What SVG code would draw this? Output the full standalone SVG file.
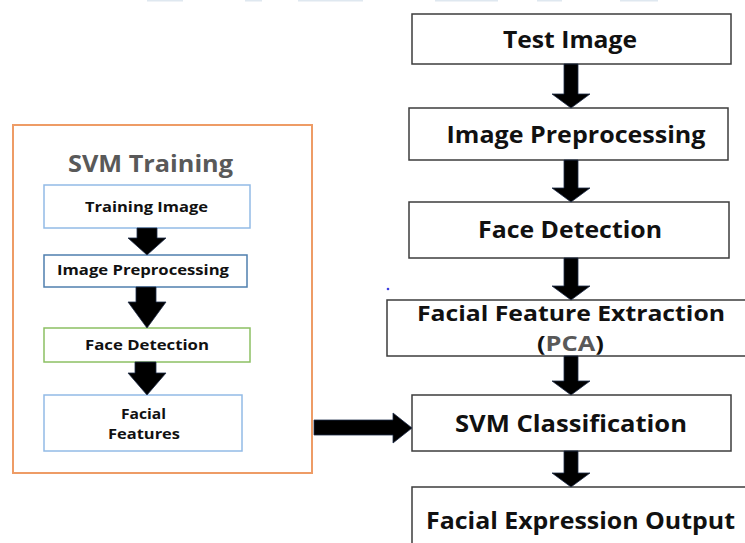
<svg xmlns="http://www.w3.org/2000/svg" width="745" height="543" viewBox="0 0 745 543">
<style>
.bx{fill:#fff;stroke:#3c3c3c;stroke-width:1.5}
.t{font-family:"Open Sans",Lato,"Liberation Sans",sans-serif;font-weight:bold;fill:#111;text-anchor:middle}
.big{font-size:23px}
.mid{font-size:21.5px}
.sm{font-size:15px}
.arr{fill:#000;stroke:#1f2d4a;stroke-width:0.8}
.strip{fill:#dfe8f0}
</style>
<rect width="745" height="543" fill="#fff"/>
<g id="strips">
<rect class="strip" x="147" y="0" width="36" height="1.5"/>
<rect class="strip" x="245" y="0" width="17" height="1.5"/>
<rect class="strip" x="298" y="0" width="65" height="1.5"/>
<rect class="strip" x="435" y="0" width="63" height="1.5"/>
<rect class="strip" x="537" y="0" width="25" height="1.5"/>
<rect class="strip" x="620" y="0" width="38" height="1.5"/>
</g>
<g id="svm-training">
<rect x="13" y="125" width="299" height="348" fill="#fff" stroke="#ee9c66" stroke-width="2"/>
<text class="t" x="150.5" y="172" textLength="165" lengthAdjust="spacingAndGlyphs" style="font-size:24px;fill:#595959">SVM Training</text>
</g>
<g id="training-image">
<rect x="44" y="185" width="206" height="43" fill="#fff" stroke="#92bbe6" stroke-width="1.5"/>
<text class="t sm" x="146.5" y="212" textLength="123" lengthAdjust="spacingAndGlyphs">Training Image</text>
</g>
<g id="image-preprocessing-l">
<rect x="44" y="255" width="203" height="32" fill="#fff" stroke="#4f7fae" stroke-width="1.5"/>
<text class="t sm" x="143" y="275" textLength="172" lengthAdjust="spacingAndGlyphs">Image Preprocessing</text>
</g>
<g id="face-detection-l">
<rect x="44" y="328" width="206" height="34" fill="#fff" stroke="#8cc063" stroke-width="1.5"/>
<text class="t sm" x="147" y="350" textLength="124" lengthAdjust="spacingAndGlyphs">Face Detection</text>
</g>
<g id="facial-features">
<rect x="44" y="395" width="198" height="56" fill="#fff" stroke="#92bbe6" stroke-width="1.5"/>
<text class="t sm" x="143.5" y="419" textLength="45" lengthAdjust="spacingAndGlyphs">Facial</text>
<text class="t sm" x="144" y="439" textLength="72" lengthAdjust="spacingAndGlyphs">Features</text>
</g>
<g id="test-image">
<rect class="bx" x="412" y="14" width="319" height="50"/>
<text class="t big" x="570" y="48" textLength="134" lengthAdjust="spacingAndGlyphs">Test Image</text>
</g>
<g id="image-preprocessing">
<rect class="bx" x="409" y="108" width="319" height="52"/>
<text class="t big" x="576" y="143" textLength="259" lengthAdjust="spacingAndGlyphs">Image Preprocessing</text>
</g>
<g id="face-detection">
<rect class="bx" x="409" y="202" width="320" height="56"/>
<text class="t big" x="570" y="238" textLength="184" lengthAdjust="spacingAndGlyphs">Face Detection</text>
</g>
<g id="facial-feature-extraction">
<rect class="bx" x="387" y="300" width="370" height="56"/>
<text class="t mid" x="571" y="321" textLength="308" lengthAdjust="spacingAndGlyphs">Facial Feature Extraction</text>
<text class="t mid" x="570.5" y="351" textLength="67" lengthAdjust="spacingAndGlyphs">(<tspan style="fill:#595959">PCA</tspan>)</text>
</g>
<g id="svm-classification">
<rect class="bx" x="412" y="395" width="319" height="56"/>
<text class="t big" x="571" y="432" textLength="232" lengthAdjust="spacingAndGlyphs">SVM Classification</text>
</g>
<g id="facial-expression-output">
<rect class="bx" x="412" y="487" width="345" height="70"/>
<text class="t big" x="580.5" y="529" textLength="309" lengthAdjust="spacingAndGlyphs">Facial Expression Output</text>
</g>
<circle cx="388" cy="289" r="1.3" fill="#3d3de0"/>
<g id="connectors">
<path class="arr" d="M564 64H578V94H590L571 108L552 94H564Z"/>
<path class="arr" d="M564 160H578V188H590L571 202L552 188H564Z"/>
<path class="arr" d="M564 258H578V286H590L571 300L552 286H564Z"/>
<path class="arr" d="M564 356H578V381H590L571 395L552 381H564Z"/>
<path class="arr" d="M564 451H578V473H590L571 487L552 473H564Z"/>
<path class="arr" d="M137 228H157V238H166L147 255L128 238H137Z"/>
<path class="arr" d="M136 287H156V302H166L147 328L128 302H136Z"/>
<path class="arr" d="M135 362H156V373H166L147 395L128 373H135Z"/>
<path class="arr" d="M314 420H393V413L412 428L393 443V435H314Z"/>
</g>
</svg>
